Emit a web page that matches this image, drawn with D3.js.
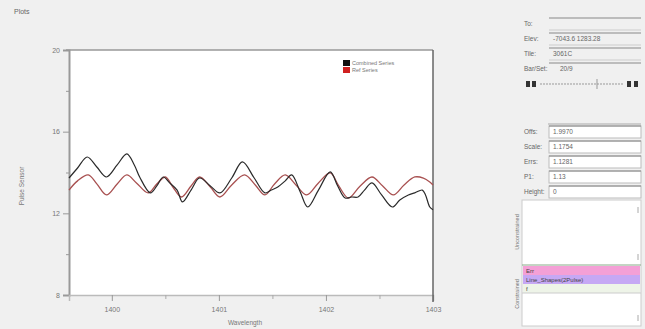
<!DOCTYPE html>
<html><head><meta charset="utf-8">
<script src="https://cdn.jsdelivr.net/npm/d3@7"></script>
<style>
html,body{margin:0;padding:0;background:#f0f0f0;}
svg{display:block;font-family:"Liberation Sans",Arial,sans-serif;}
</style></head>
<body><svg id="c" width="645" height="329"></svg>
<script>
// ---- data ----
const combinedX = [1399.60,1399.68,1399.77,1399.86,1399.95,1400.05,1400.14,1400.21,1400.26,1400.36,1400.42,1400.48,1400.54,1400.61,1400.66,1400.74,1400.82,1400.92,1401.01,1401.12,1401.22,1401.33,1401.43,1401.49,1401.55,1401.62,1401.68,1401.76,1401.83,1401.93,1402.04,1402.11,1402.18,1402.24,1402.30,1402.36,1402.43,1402.52,1402.62,1402.69,1402.77,1402.83,1402.90,1402.93,1402.97,1403.00];
const combinedY = [13.73,14.22,14.76,14.27,13.78,14.37,14.91,14.37,13.78,13.00,13.34,13.78,13.49,13.14,12.56,13.14,13.73,13.34,13.00,13.73,14.52,13.73,13.00,13.14,13.29,13.59,13.88,13.05,12.31,13.14,14.03,13.34,12.75,12.80,12.80,13.14,13.49,12.90,12.31,12.65,12.90,13.00,13.14,12.90,12.31,12.17];
const refX = [1399.60,1399.68,1399.78,1399.86,1399.95,1400.05,1400.14,1400.23,1400.34,1400.42,1400.50,1400.57,1400.65,1400.74,1400.82,1400.92,1401.01,1401.12,1401.24,1401.34,1401.43,1401.52,1401.62,1401.72,1401.82,1401.93,1402.04,1402.12,1402.21,1402.32,1402.43,1402.53,1402.63,1402.73,1402.83,1402.91,1402.97,1403.00];
const refY = [13.14,13.59,13.88,13.44,12.90,13.44,13.88,13.49,13.00,13.44,13.78,13.29,12.80,13.34,13.78,13.29,12.80,13.39,13.88,13.39,12.90,13.44,13.88,13.39,12.90,13.49,13.98,13.34,12.75,13.34,13.78,13.34,12.90,13.39,13.78,13.73,13.54,13.39];
const seriesNames = ["Combined Series","Ref Series"];
const xMajorTicks = [1400,1401,1402,1403];
const xMinorTicks = [1400.5,1401.5,1402.5];
const yMajorTicks = [8,12,16,20];
const yMinorTicks = [10,14,18];
const panel1Labels = ["To:","Elev:","Tile:","Bar/Set:"];
const panel1Values = ["","-7043.6 1283.28","3061C","20/9"];
const panel2Labels = ["Offs:","Scale:","Errs:","P1:","Height:"];
const panel2Values = ["1.9970","1.1754","1.1281","1.13","0"];
const listRows = ["Err","Line_Shapes(2Pulse)","f"];

// ---- chart ----
const svg = d3.select("#c");
const L=69,R=433,T=50,B=295;
const x = d3.scaleLinear().domain([1399.6,1403.0]).range([L,R]);
const y = d3.scaleLinear().domain([8,20]).range([B,T]);

svg.append("text").attr("x",14).attr("y",14).attr("font-size",7).attr("fill","#666").text("Plots");

svg.append("rect").attr("x",L).attr("y",T).attr("width",R-L).attr("height",B-T).attr("fill","#fff");

const tickCol="#999", lblCol="#777";
// y axis
const ya = svg.append("g").attr("transform",`translate(${L},0)`)
  .call(d3.axisLeft(y).tickValues(yMajorTicks).tickSize(6).tickPadding(3).tickFormat(d3.format("d")));
ya.select(".domain").attr("stroke",tickCol).attr("stroke-width",2);
ya.selectAll(".tick line").attr("stroke",tickCol);
ya.selectAll("text").attr("font-size",7).attr("fill",lblCol).attr("font-family","Liberation Sans,Arial,sans-serif");
svg.append("g").attr("transform",`translate(${L},0)`)
  .call(d3.axisLeft(y).tickValues(yMinorTicks).tickSize(3).tickFormat(""))
  .call(g=>{g.select(".domain").remove();g.selectAll("line").attr("stroke",tickCol);});
// x axis
const xa = svg.append("g").attr("transform",`translate(0,${B})`)
  .call(d3.axisBottom(x).tickValues(xMajorTicks).tickSize(6).tickPadding(6).tickFormat(d3.format("d")));
xa.select(".domain").attr("stroke","#bbb").attr("stroke-width",1.5);
xa.selectAll(".tick line").attr("stroke",tickCol);
xa.selectAll("text").attr("font-size",7).attr("fill",lblCol).attr("font-family","Liberation Sans,Arial,sans-serif");
svg.append("g").attr("transform",`translate(0,${B})`)
  .call(d3.axisBottom(x).tickValues(xMinorTicks).tickSize(4).tickFormat(""))
  .call(g=>{g.select(".domain").remove();g.selectAll("line").attr("stroke","#aaa");});
// frame top / right
svg.append("line").attr("x1",L-3).attr("x2",R).attr("y1",T).attr("y2",T).attr("stroke","#999").attr("stroke-width",1.5);
svg.append("line").attr("x1",R).attr("x2",R).attr("y1",T).attr("y2",B+7).attr("stroke","#666").attr("stroke-width",1.5);

// axis titles
svg.append("text").attr("transform","translate(24,186) rotate(-90)").attr("text-anchor","middle")
  .attr("font-size",6.5).attr("fill","#777").text("Pulse Sensor");
svg.append("text").attr("x",245).attr("y",325).attr("text-anchor","middle")
  .attr("font-size",6.5).attr("fill","#777").text("Wavelength");

// lines
const mk = (xs,ys)=>xs.map((v,i)=>[v,ys[i]]);
const line = d3.line().x(d=>x(d[0])).y(d=>y(d[1])).curve(d3.curveCatmullRom.alpha(0.5));
svg.append("path").datum(mk(refX,refY)).attr("d",line).attr("fill","none")
  .attr("stroke","#a85050").attr("stroke-width",1.3);
svg.append("path").datum(mk(combinedX,combinedY)).attr("d",line).attr("fill","none")
  .attr("stroke","#2a2a2a").attr("stroke-width",1.2);

// legend
const lg = svg.append("g").attr("transform","translate(343,60)");
const lc = ["#111","#d02020"];
seriesNames.forEach((n,i)=>{
  lg.append("rect").attr("x",0).attr("y",i*7).attr("width",7).attr("height",6).attr("fill",lc[i]);
  lg.append("text").attr("x",9).attr("y",i*7+5).attr("font-size",5.5).attr("fill","#777").text(n);
});

// ---- right panel ----
const P = svg.append("g").attr("font-size",6.5).attr("fill","#666");
panel1Labels.forEach((lab,i)=>{
  const yy = 18 + i*15;
  P.append("text").attr("x",524).attr("y",yy+8).attr("fill","#666").text(lab);
  P.append("line").attr("x1",549).attr("x2",641).attr("y1",yy).attr("y2",yy).attr("stroke","#888");
  if(i<3) P.append("line").attr("x1",549).attr("x2",641).attr("y1",yy+12).attr("y2",yy+12).attr("stroke","#ccc");
  P.append("text").attr("x",i===3?560:553).attr("y",yy+8).attr("fill","#666").text(panel1Values[i]);
});
// slider
const sy = 84;
[526,532].forEach(xx=>P.append("rect").attr("x",xx).attr("y",sy-3).attr("width",4).attr("height",6).attr("fill","#333"));
[627,634].forEach(xx=>P.append("rect").attr("x",xx).attr("y",sy-3).attr("width",4).attr("height",6).attr("fill","#333"));
P.append("line").attr("x1",540).attr("x2",624).attr("y1",sy).attr("y2",sy).attr("stroke","#999").attr("stroke-dasharray","2,1");
P.append("line").attr("x1",597).attr("x2",597).attr("y1",sy-5).attr("y2",sy+5).attr("stroke","#999");
P.append("line").attr("x1",548).attr("x2",641).attr("y1",124).attr("y2",124).attr("stroke","#aaa");
panel2Labels.forEach((lab,i)=>{
  const yy = 126 + i*15;
  P.append("text").attr("x",524).attr("y",yy+8).attr("fill","#666").text(lab);
  P.append("rect").attr("x",549).attr("y",yy).attr("width",92).attr("height",12).attr("fill","#fff").attr("stroke","#bbb");
  P.append("line").attr("x1",549).attr("x2",641).attr("y1",yy).attr("y2",yy).attr("stroke","#888");
  P.append("text").attr("x",553).attr("y",yy+8).attr("fill","#666").text(panel2Values[i]);
});
// list box
P.append("rect").attr("x",522).attr("y",200).attr("width",119).attr("height",126).attr("fill","#fff").attr("stroke","#ccc");
P.append("text").attr("transform","translate(519,232) rotate(-90)").attr("text-anchor","middle").attr("font-size",5.5).attr("fill","#777").text("Unconstrained");
P.append("text").attr("transform","translate(519,294) rotate(-90)").attr("text-anchor","middle").attr("font-size",5.5).attr("fill","#777").text("Constrained");
P.append("line").attr("x1",522).attr("x2",641).attr("y1",265).attr("y2",265).attr("stroke","#8a8");
const rowCols = ["#f4a0d6","#c6a8f4","#eef4e8"];
listRows.forEach((r,i)=>{
  const yy = 266 + i*9;
  P.append("rect").attr("x",523).attr("y",yy).attr("width",117).attr("height",9).attr("fill",rowCols[i]);
  P.append("text").attr("x",526).attr("y",yy+7).attr("font-size",6).attr("fill","#444").text(r);
});
P.append("line").attr("x1",522).attr("x2",641).attr("y1",293).attr("y2",293).attr("stroke","#ccc");
[210,257,318].forEach(yy=>P.append("line").attr("x1",638).attr("x2",638).attr("y1",yy-3).attr("y2",yy+3).attr("stroke","#aaa"));
</script></body></html>
